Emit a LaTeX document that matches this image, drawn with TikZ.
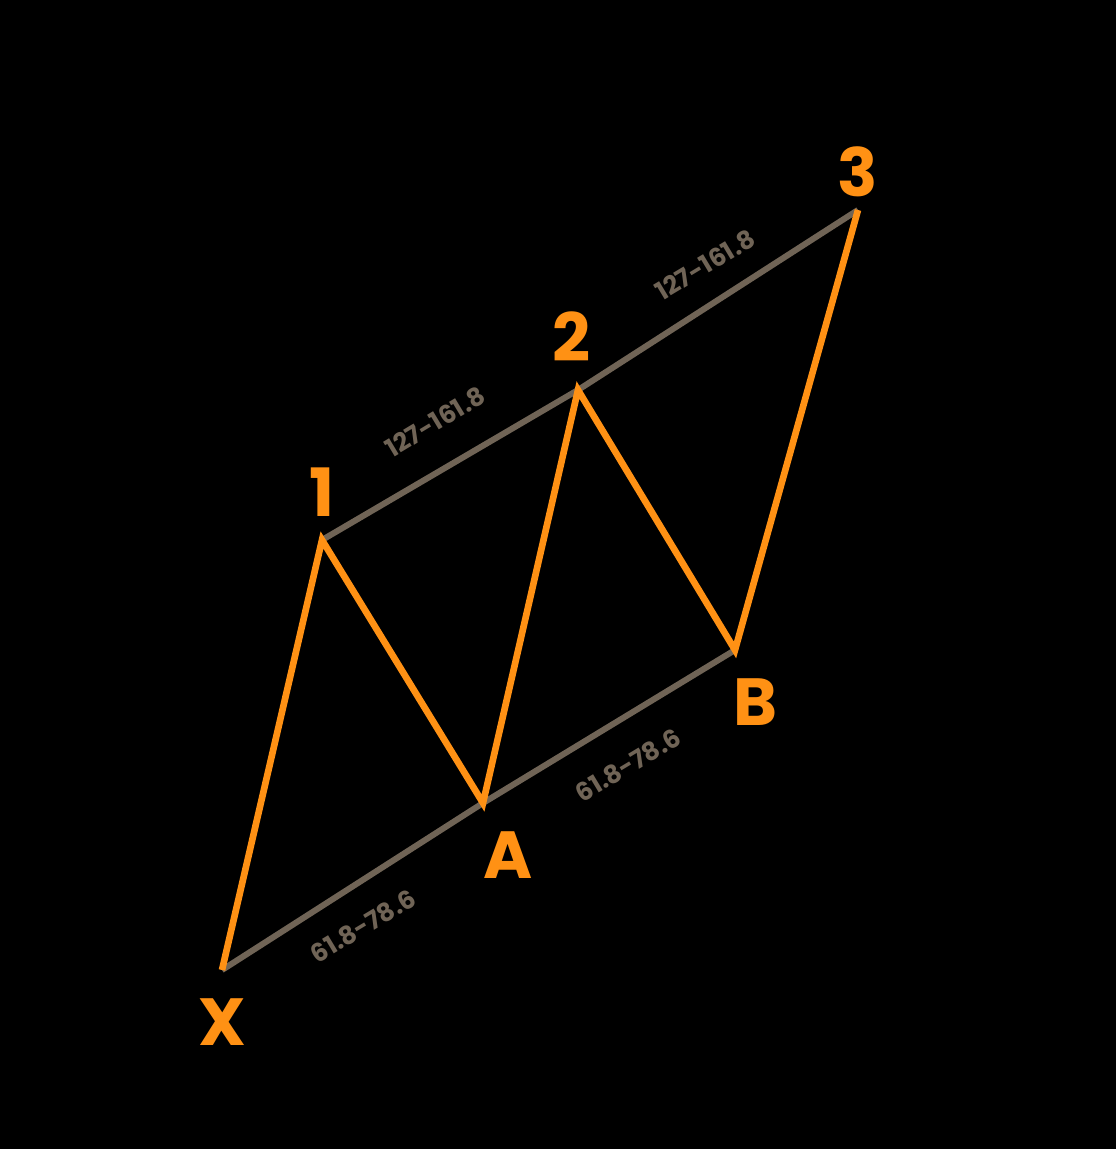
\documentclass[tikz,border=0pt]{standalone}
\usepackage{fontspec}
\setmainfont{Poppins}
\usetikzlibrary{positioning,calc}

\definecolor{drive}{RGB}{255,145,20}
\definecolor{ratio}{RGB}{112,100,86}

\tikzset{
  point/.style={text=drive,font=\fontsize{50}{50}\selectfont\bfseries},
  fib/.style={text=ratio,font=\fontsize{19}{19}\selectfont\bfseries,rotate=31},
  leg/.style={draw=drive,line width=5pt,line join=miter},
  base/.style={draw=ratio,line width=4.5pt}
}

\begin{document}
\begin{tikzpicture}[x=0.75pt,y=-0.75pt]

  \fill[black] (0,0) rectangle (1116,1149);
  \useasboundingbox (0,0) rectangle (1116,1149);

  \coordinate (x) at (222,970);
  \coordinate (p1) at (322,540);
  \coordinate (a) at (483,803);
  \coordinate (p2) at (578,390);
  \coordinate (b) at (735,650);
  \coordinate (p3) at (858,210);

  % ratio lines
  \path[base] (x) -- (a) -- (b);
  \path[base] (p1) -- (p2) -- (p3);

  % the three drives
  \path[leg] (x) -- (p1) -- (a) -- (p2) -- (b) -- (p3);

  \node[point] (lx) at (222,1022) {X};
  \node[point] (l1) at (322,492) {1};
  \node[point] (la) at (508,855) {A};
  \node[point] (l2) at (572,337) {2};
  \node[point] (lb) at (755,702) {B};
  \node[point] (l3) at (858,172) {3};

  \node[fib] (rxa) at (363,926) {61.8-78.6};
  \node[fib] (rab) at (628,765) {61.8-78.6};
  \node[fib] (r12) at (435,422) {127-161.8};
  \node[fib] (r23) at (705,265) {127-161.8};

\end{tikzpicture}
\end{document}
